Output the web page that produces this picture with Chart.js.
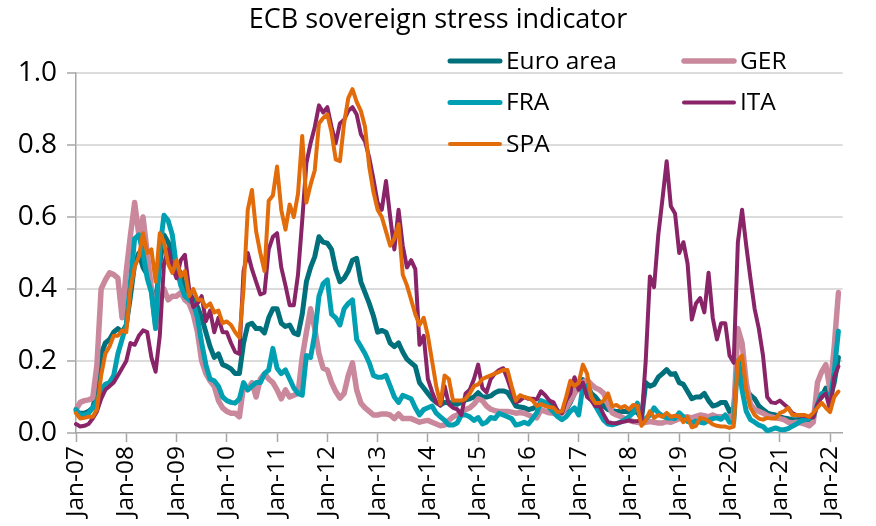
<!DOCTYPE html>
<html>
<head>
<meta charset="utf-8">
<script src="https://cdn.jsdelivr.net/npm/chart.js@4/dist/chart.umd.min.js"></script>
<style>
  html, body { margin: 0; padding: 0; background: #fff; }
  #wrap { width: 876px; height: 526px; position: relative; }
</style>
</head>
<body>
<div id="wrap"><canvas id="c" width="876" height="526"></canvas></div>
<script>
// ---------- DATA (monthly, Jan-07 .. Mar-22) ----------
const chartTitle = 'ECB sovereign stress indicator';
const seriesNames = ['Euro area', 'GER', 'FRA', 'ITA', 'SPA'];
const firstYear = 2007;
const monthNames = ['Jan','Feb','Mar','Apr','May','Jun','Jul','Aug','Sep','Oct','Nov','Dec'];
const yTicks = [0, 0.2, 0.4, 0.6, 0.8, 1.0];

const euroArea = [
  0.06,0.055,0.055,0.06,0.07,0.12,0.22,0.25,0.26,0.28,0.29,0.28,
  0.30,0.38,0.47,0.50,0.46,0.44,0.40,0.36,0.47,0.55,0.53,0.50,
  0.47,0.44,0.40,0.39,0.37,0.35,0.32,0.28,0.24,0.21,0.22,0.19,
  0.185,0.178,0.165,0.165,0.25,0.30,0.305,0.29,0.29,0.278,0.32,0.345,
  0.345,0.305,0.296,0.30,0.278,0.273,0.33,0.42,0.46,0.49,0.545,0.53,
  0.527,0.51,0.455,0.42,0.43,0.45,0.48,0.485,0.42,0.39,0.36,0.325,
  0.28,0.285,0.28,0.25,0.24,0.25,0.225,0.205,0.195,0.185,0.14,0.125,
  0.11,0.095,0.085,0.078,0.085,0.085,0.082,0.08,0.085,0.092,0.095,0.10,
  0.112,0.10,0.10,0.103,0.112,0.117,0.117,0.113,0.095,0.075,0.072,0.07,
  0.065,0.068,0.074,0.083,0.083,0.08,0.075,0.06,0.056,0.065,0.085,0.11,
  0.13,0.148,0.135,0.11,0.10,0.085,0.075,0.065,0.062,0.06,0.06,0.06,
  0.058,0.058,0.058,0.04,0.14,0.13,0.135,0.155,0.165,0.176,0.163,0.165,
  0.14,0.135,0.115,0.095,0.10,0.10,0.11,0.09,0.075,0.078,0.085,0.085,
  0.06,0.07,0.21,0.15,0.12,0.105,0.095,0.075,0.065,0.056,0.052,0.05,
  0.045,0.042,0.04,0.037,0.037,0.037,0.037,0.037,0.04,0.09,0.10,0.125,
  0.095,0.14,0.21
];
const ger = [
  0.065,0.085,0.09,0.092,0.097,0.19,0.40,0.425,0.445,0.44,0.43,0.32,
  0.45,0.55,0.64,0.55,0.60,0.50,0.40,0.30,0.36,0.40,0.37,0.38,
  0.38,0.39,0.37,0.36,0.33,0.28,0.20,0.165,0.145,0.13,0.09,0.07,
  0.06,0.055,0.055,0.045,0.13,0.12,0.14,0.10,0.15,0.165,0.15,0.14,
  0.12,0.095,0.12,0.10,0.105,0.11,0.21,0.28,0.345,0.29,0.22,0.18,
  0.175,0.14,0.115,0.097,0.11,0.16,0.195,0.12,0.083,0.07,0.06,0.05,
  0.05,0.053,0.053,0.05,0.04,0.053,0.04,0.04,0.04,0.035,0.03,0.033,
  0.035,0.03,0.025,0.02,0.022,0.035,0.045,0.05,0.06,0.065,0.07,0.08,
  0.095,0.09,0.075,0.066,0.062,0.06,0.06,0.06,0.058,0.055,0.057,0.055,
  0.05,0.045,0.042,0.065,0.06,0.056,0.055,0.05,0.056,0.07,0.09,0.11,
  0.125,0.14,0.148,0.135,0.125,0.12,0.11,0.08,0.056,0.05,0.046,0.04,
  0.035,0.032,0.03,0.028,0.03,0.032,0.03,0.028,0.028,0.032,0.03,0.035,
  0.04,0.043,0.045,0.042,0.046,0.05,0.048,0.045,0.05,0.045,0.045,0.045,
  0.045,0.05,0.29,0.25,0.14,0.08,0.065,0.06,0.055,0.048,0.045,0.042,
  0.04,0.037,0.03,0.028,0.03,0.028,0.025,0.02,0.03,0.14,0.17,0.19,
  0.12,0.24,0.39
];
const fra = [
  0.065,0.05,0.05,0.055,0.07,0.09,0.12,0.135,0.14,0.16,0.22,0.26,
  0.30,0.42,0.54,0.55,0.50,0.43,0.39,0.29,0.51,0.605,0.59,0.55,
  0.46,0.41,0.38,0.37,0.36,0.32,0.25,0.19,0.15,0.145,0.13,0.10,
  0.09,0.085,0.083,0.095,0.14,0.12,0.13,0.14,0.14,0.165,0.175,0.235,
  0.18,0.165,0.175,0.15,0.125,0.11,0.105,0.215,0.21,0.275,0.38,0.415,
  0.425,0.33,0.32,0.30,0.345,0.36,0.37,0.26,0.24,0.22,0.195,0.16,
  0.155,0.155,0.16,0.13,0.10,0.085,0.105,0.10,0.095,0.07,0.05,0.065,
  0.07,0.075,0.055,0.045,0.035,0.022,0.022,0.028,0.05,0.05,0.045,0.035,
  0.043,0.025,0.03,0.043,0.04,0.055,0.05,0.045,0.04,0.022,0.025,0.03,
  0.025,0.04,0.056,0.09,0.085,0.07,0.058,0.045,0.037,0.045,0.06,0.07,
  0.05,0.13,0.13,0.10,0.075,0.055,0.035,0.025,0.023,0.026,0.03,0.037,
  0.045,0.056,0.083,0.03,0.04,0.05,0.07,0.056,0.048,0.042,0.042,0.04,
  0.056,0.045,0.032,0.028,0.033,0.03,0.028,0.035,0.04,0.042,0.038,0.05,
  0.03,0.03,0.20,0.12,0.06,0.037,0.03,0.022,0.018,0.006,0.01,0.014,
  0.01,0.009,0.012,0.019,0.025,0.033,0.037,0.04,0.046,0.08,0.11,0.11,
  0.093,0.17,0.283
];
const ita = [
  0.025,0.018,0.02,0.025,0.04,0.06,0.095,0.12,0.13,0.14,0.16,0.18,
  0.20,0.25,0.245,0.27,0.285,0.28,0.21,0.17,0.27,0.47,0.51,0.46,
  0.43,0.48,0.495,0.40,0.35,0.36,0.38,0.31,0.34,0.28,0.32,0.28,
  0.28,0.25,0.225,0.22,0.45,0.50,0.455,0.42,0.385,0.39,0.51,0.545,
  0.555,0.46,0.41,0.355,0.355,0.44,0.59,0.75,0.805,0.85,0.91,0.89,
  0.905,0.85,0.805,0.86,0.87,0.895,0.905,0.885,0.83,0.81,0.765,0.705,
  0.64,0.62,0.70,0.60,0.51,0.62,0.52,0.46,0.48,0.455,0.245,0.27,
  0.15,0.115,0.085,0.076,0.13,0.08,0.07,0.066,0.05,0.11,0.12,0.15,
  0.19,0.125,0.113,0.15,0.165,0.175,0.18,0.15,0.115,0.085,0.09,0.10,
  0.095,0.095,0.093,0.116,0.105,0.09,0.085,0.06,0.055,0.09,0.11,0.155,
  0.12,0.14,0.10,0.09,0.074,0.075,0.05,0.03,0.028,0.027,0.03,0.032,
  0.035,0.032,0.033,0.035,0.20,0.435,0.405,0.55,0.65,0.755,0.63,0.61,
  0.50,0.53,0.47,0.315,0.36,0.375,0.335,0.445,0.32,0.26,0.305,0.305,
  0.215,0.195,0.53,0.62,0.52,0.43,0.345,0.29,0.215,0.10,0.085,0.083,
  0.09,0.08,0.07,0.055,0.05,0.048,0.047,0.045,0.043,0.08,0.10,0.11,
  0.065,0.155,0.185
];
const spa = [
  0.055,0.04,0.042,0.045,0.045,0.065,0.16,0.22,0.24,0.27,0.27,0.285,
  0.28,0.40,0.46,0.49,0.555,0.50,0.51,0.42,0.555,0.53,0.47,0.445,
  0.48,0.435,0.45,0.38,0.40,0.37,0.37,0.35,0.36,0.335,0.34,0.305,
  0.31,0.30,0.28,0.265,0.40,0.62,0.675,0.56,0.50,0.45,0.645,0.66,
  0.74,0.62,0.565,0.635,0.60,0.665,0.825,0.64,0.69,0.73,0.86,0.875,
  0.885,0.835,0.76,0.755,0.86,0.93,0.955,0.92,0.895,0.85,0.74,0.67,
  0.62,0.60,0.56,0.52,0.54,0.58,0.44,0.41,0.37,0.33,0.30,0.32,
  0.27,0.20,0.13,0.08,0.16,0.15,0.09,0.09,0.09,0.095,0.11,0.13,
  0.135,0.15,0.155,0.16,0.165,0.17,0.175,0.175,0.13,0.09,0.105,0.10,
  0.097,0.09,0.075,0.08,0.075,0.072,0.07,0.058,0.06,0.10,0.145,0.13,
  0.14,0.19,0.165,0.10,0.083,0.083,0.09,0.11,0.074,0.078,0.07,0.075,
  0.065,0.078,0.075,0.02,0.035,0.06,0.042,0.05,0.045,0.056,0.045,0.048,
  0.046,0.03,0.045,0.016,0.02,0.042,0.04,0.033,0.024,0.02,0.018,0.018,
  0.014,0.018,0.20,0.215,0.12,0.07,0.05,0.04,0.037,0.042,0.04,0.04,
  0.055,0.06,0.07,0.05,0.05,0.05,0.05,0.045,0.056,0.07,0.084,0.07,
  0.058,0.10,0.115
];

// ---------- categories: one per month, Jan-07 .. Apr-22 (axis runs a little past the last point) ----------
const nMonths = 184;
const categories = [];
for (let i = 0; i < nMonths; i++) {
  const y = firstYear + Math.floor(i / 12);
  categories.push(monthNames[i % 12] + '-' + String(y % 100).padStart(2, '0'));
}

// ---------- styling ----------
const FONT = "'Open Sans', 'DejaVu Sans', sans-serif";
const colors = ['#00707C', '#C9889B', '#00A0B2', '#8A2468', '#E36C0A'];
const widths = [5, 5.5, 5, 4, 4];
const seriesData = [euroArea, ger, fra, ita, spa];

const datasets = seriesNames.map((name, i) => ({
  label: name,
  data: seriesData[i],
  borderColor: colors[i],
  backgroundColor: colors[i],
  borderWidth: widths[i],
  pointRadius: 0,
  pointHoverRadius: 0,
  tension: 0,
  fill: false,
  borderJoinStyle: 'round',
  borderCapStyle: 'round',
  order: seriesNames.length - i
}));

const titlePlugin = {
  id: 'titleText',
  afterDraw(chart) {
    const ctx = chart.ctx;
    ctx.save();
    ctx.font = "27px " + FONT;
    ctx.fillStyle = '#000';
    ctx.textAlign = 'center';
    ctx.textBaseline = 'middle';
    ctx.fillText(chartTitle, 438, 20);
    ctx.restore();
  }
};

const legendPlugin = {
  id: 'gridLegend',
  afterDraw(chart) {
    const ctx = chart.ctx;
    const colX = [448, 682];
    const rowY = [61, 102.5, 144];
    ctx.save();
    ctx.font = "24.5px " + FONT;
    ctx.textBaseline = 'middle';
    ctx.textAlign = 'left';
    chart.data.datasets.forEach((ds, i) => {
      const x = colX[i % 2];
      const y = rowY[Math.floor(i / 2)];
      ctx.strokeStyle = ds.borderColor;
      ctx.lineWidth = ds.borderWidth;
      ctx.lineCap = 'round';
      ctx.beginPath();
      ctx.moveTo(x + 2, y);
      ctx.lineTo(x + 52, y);
      ctx.stroke();
      ctx.fillStyle = '#000';
      ctx.fillText(ds.label, x + 58, y + 1);
    });
    ctx.restore();
  }
};

new Chart(document.getElementById('c'), {
  type: 'line',
  data: { labels: categories, datasets },
  plugins: [titlePlugin, legendPlugin],
  options: {
    responsive: false,
    animation: false,
    devicePixelRatio: 1,
    layout: { padding: { top: 73, left: 0, right: 7, bottom: 0 } },
    plugins: { legend: { display: false }, tooltip: { enabled: false }, title: { display: false } },
    scales: {
      x: {
        type: 'category',
        offset: false,
        afterFit(scale) { scale.height = 93; },
        border: { display: true, color: '#a6a6a6', width: 1.5 },
        grid: {
          drawOnChartArea: false,
          drawTicks: true,
          tickLength: 9,
          tickWidth: 1.5,
          tickColor: (c) => (c.index % 12 === 0 ? '#a6a6a6' : 'rgba(0,0,0,0)')
        },
        ticks: {
          autoSkip: false,
          minRotation: 90,
          maxRotation: 90,
          padding: 4,
          color: '#000',
          font: { family: FONT, size: 24.5 },
          callback: (v, i) => (i % 12 === 0 ? categories[i] : '')
        }
      },
      y: {
        min: 0,
        max: 1,
        afterFit(scale) { scale.width = 76; },
        afterBuildTicks(scale) { scale.ticks = yTicks.map(v => ({ value: v })); },
        border: { display: true, color: '#a6a6a6', width: 1.5 },
        grid: {
          color: (c) => (c.tick && c.tick.value === 0 ? 'rgba(0,0,0,0)' : '#dcdcdc'),
          lineWidth: 2,
          drawTicks: true,
          tickLength: 9,
          tickWidth: 1.5,
          tickColor: '#a6a6a6'
        },
        ticks: {
          padding: 10,
          color: '#000',
          font: { family: FONT, size: 28 },
          callback: (v) => Number(v).toFixed(1)
        }
      }
    }
  }
});
</script>
</body>
</html>
